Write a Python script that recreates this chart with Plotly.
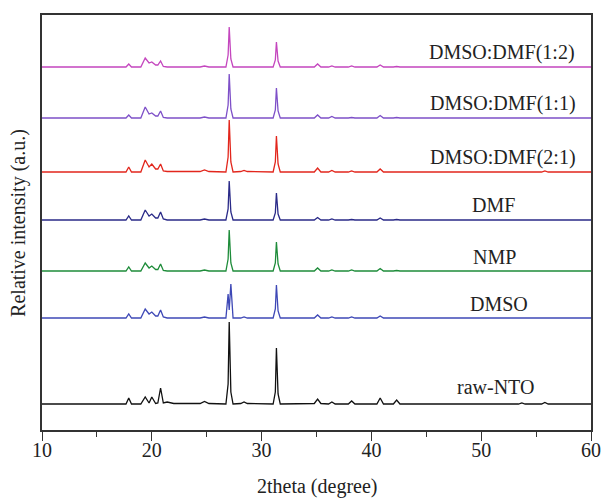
import plotly.graph_objects as go

# 2theta sampling points (degrees)
two_theta = [10.0,
             17.65, 17.9, 18.15,
             19.0, 19.4, 19.75, 20.0, 20.35, 20.55, 20.8, 21.05, 21.4, 21.7, 22.0,
             24.4, 24.8, 25.2,
             26.75, 26.95, 27.05, 27.2, 27.4,
             28.1, 28.4, 28.7,
             31.05, 31.25, 31.35, 31.5, 31.7,
             34.8, 35.1, 35.4,
             36.1, 36.4, 36.7,
             37.9, 38.2, 38.5,
             40.5, 40.8, 41.1,
             42.0, 42.3, 42.6,
             53.4, 53.7, 54.0,
             55.5, 55.8, 56.1,
             60.0]

raw_nto = [0,
           0, 6, 0,
           0, 7, 1, 7, 0.5, 1, 16, 1, 2, 1.5, 0.5,
           0.5, 2.5, 0.5,
           0, 20, 82, 12, 0,
           0.5, 2, 0.5,
           0, 12, 56, 10, 0,
           0.5, 5, 0.5,
           0, 2, 0,
           0, 3, 0,
           0, 6, 0,
           0, 4, 0,
           0, 1, 0,
           0, 1.5, 0,
           0]

dmso = [0,
        0, 4, 0,
        0, 9, 4, 6, 2, 2, 8, 1, 0, 0, 0,
        0, 1, 0,
        0, 24, 8, 34, 0,
        0, 1, 0,
        0, 9, 33, 7, 0,
        0, 3, 0,
        0, 1, 0,
        0, 1, 0,
        0, 2, 0,
        0, 0.5, 0,
        0, 0, 0,
        0, 0.5, 0,
        0]

nmp = [0,
       0, 4, 0,
       0, 8, 3, 5, 1.5, 1.5, 7, 0.5, 0, 0, 0,
       0, 1, 0,
       0, 12, 41, 8, 0,
       0, 0.5, 0,
       0, 8, 29, 7, 0,
       0, 3, 0,
       0, 1, 0,
       0, 1, 0,
       0, 2.5, 0,
       0, 0.5, 0,
       0, 0, 0,
       0, 0.5, 0,
       0]

dmf = [0,
       0, 4, 0,
       0, 10, 4, 6, 2, 2, 8, 1, 0, 0, 0,
       0, 1, 0,
       0, 11, 39, 8, 0,
       0, 0.5, 0,
       0, 7, 27, 6, 0,
       0, 2.5, 0,
       0, 1, 0,
       0, 0.5, 0,
       0, 2, 0,
       0, 0.5, 0,
       0, 0, 0,
       0, 0.5, 0,
       0]

dmso_dmf_2_1 = [0,
                0, 5, 0,
                0, 12, 5, 8, 3, 3, 8, 1, 0.5, 0.5, 1,
                0.5, 2, 0.5,
                0, 15, 52, 10, 0,
                0.5, 1.5, 0.5,
                0, 10, 36, 8, 0,
                0, 4, 0,
                0, 1.5, 0,
                0, 1, 0,
                0, 3, 0,
                0, 0.5, 0,
                0, 0, 0,
                0, 1, 0,
                0]

dmso_dmf_1_1 = [0,
                0, 3, 0,
                0, 11, 4, 5, 2, 2, 7, 0.5, 0, 0, 0,
                0, 1, 0,
                0, 13, 44, 9, 0,
                0, 0.5, 0,
                0, 8, 30, 7, 0,
                0, 3, 0,
                0, 1.5, 0,
                0, 0.5, 0,
                0, 2.5, 0,
                0, 0.5, 0,
                0, 0, 0,
                0, 0.5, 0,
                0]

dmso_dmf_1_2 = [0,
                0, 3, 0,
                0, 9, 4, 5, 2, 2, 6, 0.5, 0, 0, 0,
                0, 1, 0,
                0, 12, 40, 8, 0,
                0, 0.5, 0,
                0, 7, 25, 6, 0,
                0, 3, 0,
                0, 1, 0,
                0, 1, 0,
                0, 2, 0,
                0, 0.5, 0,
                0, 0, 0,
                0, 0.5, 0,
                0]

sample_names = ["raw-NTO", "DMSO", "NMP", "DMF",
                "DMSO:DMF(2:1)", "DMSO:DMF(1:1)", "DMSO:DMF(1:2)"]
sample_series = [raw_nto, dmso, nmp, dmf,
                 dmso_dmf_2_1, dmso_dmf_1_1, dmso_dmf_1_2]
stack_offsets = [26, 112, 159, 210, 258, 312, 363]

x_tick_values = [10, 20, 30, 40, 50, 60]
x_tick_labels = ["10", "20", "30", "40", "50", "60"]

# styling
colors = ["#111111", "#3E48B6", "#1E8C3A", "#2A2A88",
          "#E2261C", "#7E50C8", "#C446BE"]
label_x = [51.3, 51.6, 51.2, 51.1, 52.0, 51.95, 51.85]
label_y = [43, 126, 173, 225, 273, 327, 378]
FONT = "Liberation Serif, Times New Roman, serif"

fig = go.Figure()
for name, series, off, col in zip(sample_names, sample_series, stack_offsets, colors):
    fig.add_trace(go.Scatter(
        x=two_theta, y=[v + off for v in series], mode="lines", name=name,
        line=dict(color=col, width=1.3), showlegend=False, hoverinfo="skip"))

for name, lx, ly in zip(sample_names, label_x, label_y):
    fig.add_annotation(x=lx, y=ly, text=name, showarrow=False,
                       xanchor="center", yanchor="middle",
                       font=dict(family=FONT, size=20, color="#222222"))

fig.add_annotation(xref="paper", yref="paper", x=0.5, y=-0.137,
                   text="2theta (degree)", showarrow=False,
                   xanchor="center", yanchor="middle",
                   font=dict(family=FONT, size=20, color="#222222"))
fig.add_annotation(xref="paper", yref="paper", x=-0.043, y=0.5,
                   text="Relative intensity (a.u.)", showarrow=False,
                   textangle=-90, xanchor="center", yanchor="middle",
                   font=dict(family=FONT, size=20, color="#222222"))

fig.update_layout(
    width=611, height=499, autosize=False,
    margin=dict(l=42, r=10, t=15, b=69),
    paper_bgcolor="white", plot_bgcolor="white",
    font=dict(family=FONT, size=20, color="#222222"),
    xaxis=dict(range=[10, 60], tickvals=x_tick_values, ticktext=x_tick_labels,
               ticks="outside", ticklen=9, tickwidth=1.3, tickcolor="#333333",
               ticklabelstandoff=-8,
               minor=dict(dtick=5, ticks="outside", ticklen=5, tickwidth=1.3,
                          tickcolor="#333333", tick0=10),
               showline=True, linecolor="#333333", linewidth=1.5, mirror=True,
               showgrid=False, zeroline=False,
               tickfont=dict(family=FONT, size=20, color="#222222")),
    yaxis=dict(range=[0, 415], showticklabels=False, ticks="",
               showline=True, linecolor="#333333", linewidth=1.5, mirror=True,
               showgrid=False, zeroline=False),
)

fig.write_html("out.html",
               config=dict(displayModeBar=False, responsive=False),
               post_script="document.body.style.margin='0';document.body.style.padding='0';document.body.style.overflow='hidden';")
